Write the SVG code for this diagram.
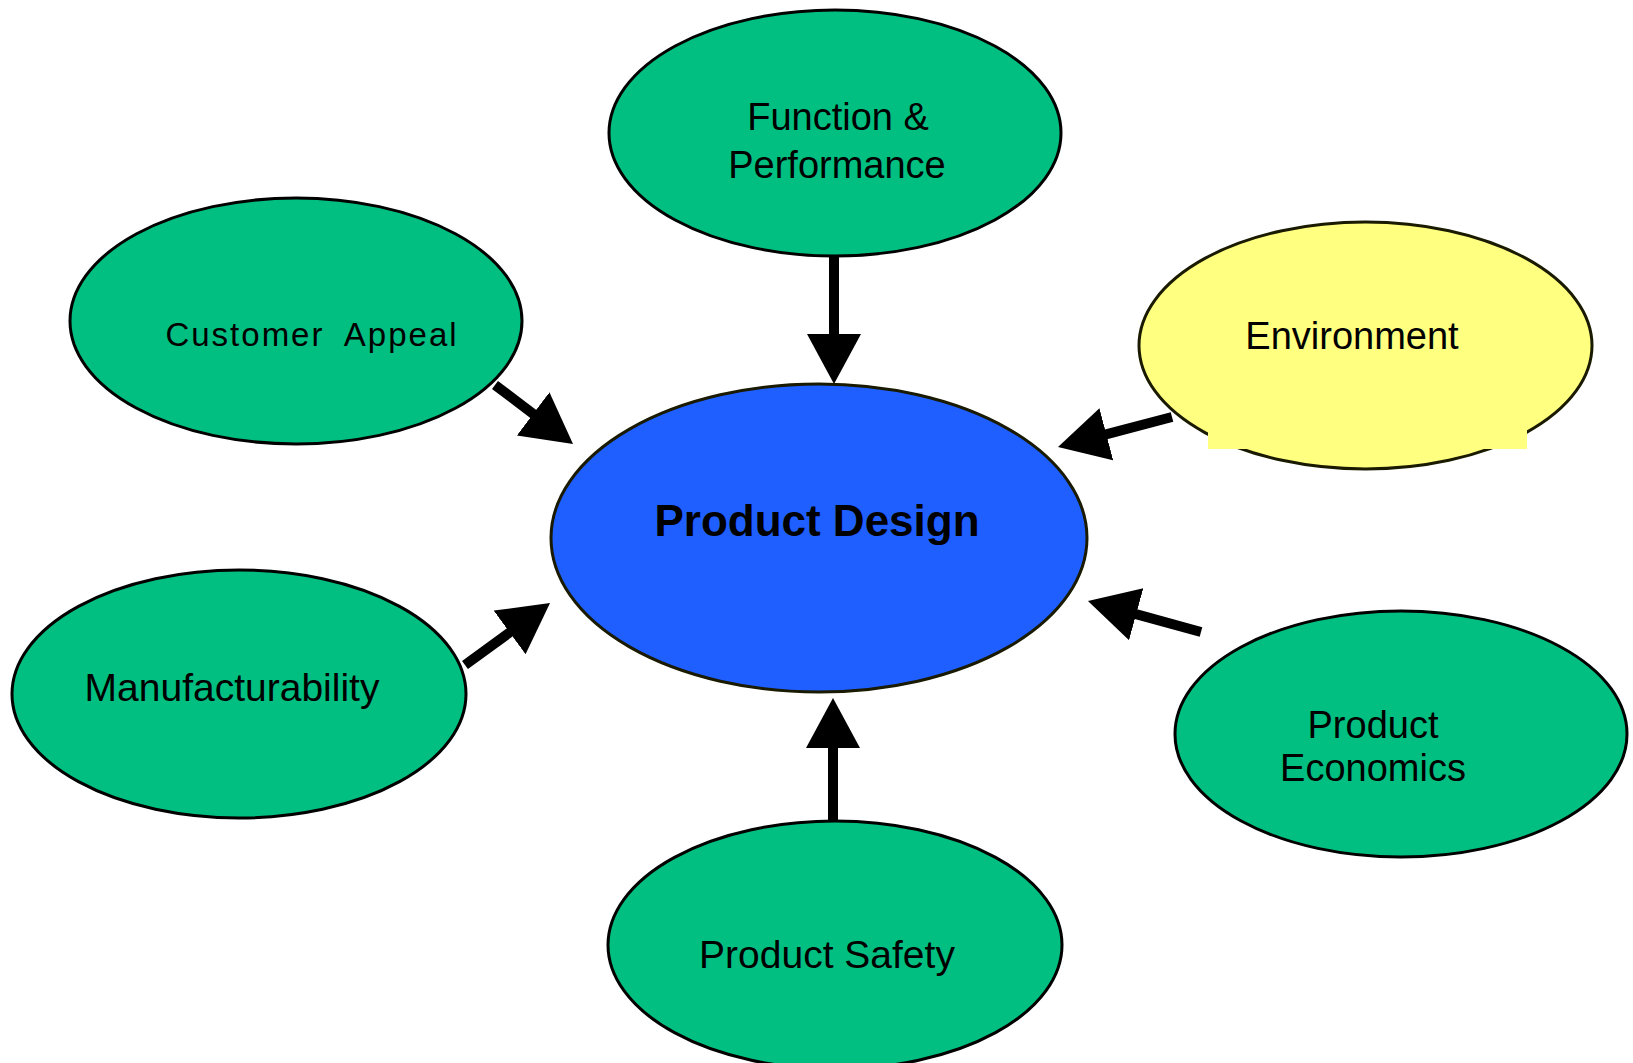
<svg xmlns="http://www.w3.org/2000/svg" width="1633" height="1063" viewBox="0 0 1633 1063">
  <style>
    .green { fill: #00BF80; stroke: #000000; stroke-width: 3; }
    .blue { fill: #1F5FFF; stroke: #1a1a00; stroke-width: 3; }
    .yellow { fill: #FFFF80; stroke: #1a1a00; stroke-width: 3; }
    .lbl { font-family: "Liberation Sans", Arial, sans-serif; font-size: 38px; fill: #000; text-anchor: middle; }
    .main { font-family: "Liberation Sans", Arial, sans-serif; font-size: 44px; font-weight: bold; fill: #000; text-anchor: middle; }
    .conn { stroke: #000; stroke-width: 10; fill: none; marker-end: url(#head); }
  </style>
  <defs>
    <marker id="head" markerUnits="userSpaceOnUse" markerWidth="52" markerHeight="56" refX="20" refY="27" orient="auto" viewBox="0 0 52 56">
      <path d="M0,0 L50,27 L0,54 z" fill="#000"/>
    </marker>
  </defs>
  <rect width="1633" height="1063" fill="#ffffff"/>

  <g id="connectors">
    <line class="conn" x1="834" y1="257" x2="834" y2="354"/>
    <line class="conn" x1="833" y1="820" x2="833" y2="728"/>
    <line class="conn" x1="495" y1="385" x2="549.1" y2="425.9"/>
    <line class="conn" x1="465" y1="665" x2="525.8" y2="620.7"/>
    <line class="conn" x1="1172" y1="417" x2="1087" y2="439.4"/>
    <line class="conn" x1="1201" y1="632" x2="1116.9" y2="608.9"/>
  </g>

  <g id="function-performance">
    <ellipse class="green" cx="835" cy="133" rx="226" ry="123"/>
    <text class="lbl" x="838" y="130">Function &amp;</text>
    <text class="lbl" x="837" y="178">Performance</text>
  </g>

  <g id="customer-appeal">
    <ellipse class="green" cx="296" cy="321" rx="226" ry="123"/>
    <text class="lbl" x="312" y="346" style="font-size:33px; letter-spacing:2px; word-spacing:10px">Customer Appeal</text>
  </g>

  <g id="environment">
    <ellipse class="yellow" cx="1365.5" cy="345.5" rx="226.5" ry="123.5"/>
    <rect x="1208" y="430" width="319" height="19" fill="#FFFF80"/>
    <text class="lbl" x="1352" y="349">Environment</text>
  </g>

  <g id="product-design">
    <ellipse class="blue" cx="819" cy="538" rx="268" ry="154"/>
    <text class="main" x="817" y="536">Product Design</text>
  </g>

  <g id="manufacturability">
    <ellipse class="green" cx="239" cy="694" rx="227" ry="124"/>
    <text class="lbl" x="232" y="701" style="font-size:39px">Manufacturability</text>
  </g>

  <g id="product-economics">
    <ellipse class="green" cx="1401" cy="734" rx="226" ry="123"/>
    <text class="lbl" x="1373" y="738">Product</text>
    <text class="lbl" x="1373" y="781">Economics</text>
  </g>

  <g id="product-safety">
    <ellipse class="green" cx="835" cy="945" rx="227" ry="124"/>
    <text class="lbl" x="827" y="968" style="font-size:39px">Product Safety</text>
  </g>
</svg>
